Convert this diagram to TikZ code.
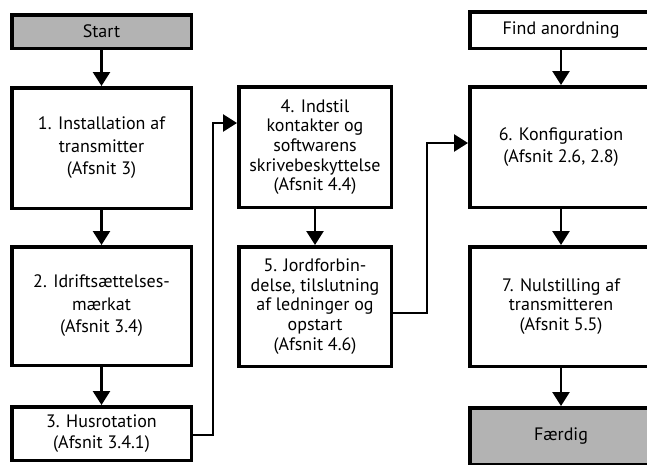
\documentclass[tikz,border=0pt]{standalone}
\usepackage{fontspec}
\setmainfont{PT Sans}
\usetikzlibrary{arrows.meta}
\definecolor{boxgrey}{RGB}{179,179,179}
\begin{document}
\begin{tikzpicture}[x=1pt,y=-1pt,
  box/.style={draw=black, line width=3.5pt, align=center, inner sep=0pt, font=\fontsize{18}{22.5}\selectfont},
  lcol/.style={box, minimum width=179.5pt},
  mcol/.style={box, minimum width=152.5pt, font=\fontsize{18}{19.7}\selectfont},
  rcol/.style={box, minimum width=182.5pt, font=\fontsize{18}{21.5}\selectfont},
  greybox/.style={fill=boxgrey},
  conn/.style={line width=2.5pt, -{Triangle[width=17pt,length=14pt]}}
]
\useasboundingbox (0,0) rectangle (647,464);
\begin{scope}
\clip (0,0) rectangle (647,464);
% left column
\node[lcol, greybox, minimum height=33.5pt] (start) at (101.5,31.5) {Start};
\node[lcol, minimum height=120.5pt] (b1) at (101.5,148) {1. Installation af\\transmitter\\(Afsnit 3)};
\node[lcol, minimum height=118.5pt] (b2) at (101.5,306) {2. Idriftsættelses-\\mærkat\\(Afsnit 3.4)};
\node[lcol, minimum height=53.5pt, font=\fontsize{18}{21.5}\selectfont] (b3) at (101.5,433.5) {3. Husrotation\\(Afsnit 3.4.1)};
% middle column
\node[mcol, minimum height=120.5pt] (b4) at (315,147) {4. Indstil\\kontakter og\\softwarens\\skrivebeskyttelse\\(Afsnit 4.4)};
\node[mcol, minimum height=119.5pt] (b5) at (315,306.5) {5. Jordforbin-\\delse, tilslutning\\af ledninger og\\opstart\\(Afsnit 4.6)};
% right column
\node[rcol, minimum height=36.5pt] (find) at (561,30) {Find anordning};
\node[rcol, minimum height=120.5pt] (b6) at (561,147) {6. Konfiguration\\(Afsnit 2.6, 2.8)};
\node[rcol, minimum height=119.5pt, font=\fontsize{18}{19.5}\selectfont] (b7) at (561,306.5) {7. Nulstilling af\\transmitteren\\(Afsnit 5.5)};
\node[rcol, greybox, minimum height=56.5pt] (done) at (561,436) {Færdig};
% connectors
\draw[conn] (start) -- (b1);
\draw[conn] (b1) -- (b2);
\draw[conn] (b2) -- (b3);
\draw[conn] (b4) -- (b5);
\draw[conn] (find) -- (b6);
\draw[conn] (b6) -- (b7);
\draw[conn] (b7) -- (done);
\coordinate (j1) at (213,123);
\coordinate (j2) at (427,143);
\draw[conn] (b3.east |- 0,435) -| (j1) -- (b4.west |- j1);
\draw[conn] (b5.east |- 0,313) -| (j2) -- (b6.west |- j2);
\end{scope}
\end{tikzpicture}
\end{document}
